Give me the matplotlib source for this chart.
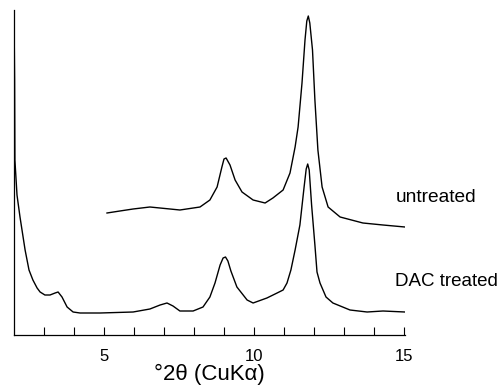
import matplotlib.pyplot as plt

plt.rcParams['font.family'] = ['Liberation Sans', 'DejaVu Sans']

# XRD patterns, 2-theta (deg) vs intensity (arbitrary units)
dac_2theta = [2.00, 2.02, 2.03, 2.10, 2.20, 2.37, 2.50, 2.63, 2.77, 2.87, 3.03,
              3.20, 3.37, 3.47, 3.60, 3.77, 3.97, 4.20, 4.87, 5.97, 6.53, 6.87,
              7.10, 7.30, 7.53, 7.97, 8.30, 8.53, 8.70, 8.87, 8.97, 9.05, 9.13,
              9.23, 9.43, 9.77, 9.97, 10.43, 10.77, 10.97, 11.10, 11.23, 11.37,
              11.53, 11.67, 11.74, 11.79, 11.84, 11.92, 12.03, 12.10, 12.20,
              12.40, 12.63, 13.20, 13.77, 14.30, 15.03]
dac_int = [323, 255, 175, 140, 118, 85, 65, 55, 47, 43, 40,
           40, 42, 43, 38, 28, 23, 22, 22, 23, 26, 30,
           32, 29, 24, 24, 28, 38, 52, 70, 77, 78, 74,
           64, 48, 35, 32, 37, 42, 45, 52, 65, 85,
           110, 148, 166, 171, 165, 130, 90, 63, 52,
           38, 32, 25, 23, 24, 23]

untreated_2theta = [5.10, 5.53, 5.97, 6.53, 7.20, 7.53, 8.20, 8.53, 8.77, 8.93,
                    9.00, 9.07, 9.20, 9.37, 9.60, 9.97, 10.37, 10.63, 10.97,
                    11.20, 11.37, 11.47, 11.60, 11.70, 11.76, 11.81, 11.86,
                    11.95, 12.03, 12.13, 12.27, 12.47, 12.87, 13.63, 14.30, 15.03]
untreated_int = [122, 124, 126, 128, 126, 125, 128, 135, 148, 168,
                 176, 177, 170, 155, 143, 135, 132, 137, 145,
                 162, 188, 208, 252, 295, 314, 319, 312,
                 285, 235, 185, 148, 128, 118, 112, 110, 108]

xticks = list(range(3, 16))
xticklabels = ['5' if t == 5 else '10' if t == 10 else '15' if t == 15 else '' for t in xticks]

fig = plt.figure(figsize=(5.02, 3.89), dpi=100)
ax = fig.add_axes([14 / 502, 54 / 389, 391.5 / 502, 325 / 389])

ax.plot(dac_2theta, dac_int, color='black', lw=1.0)
ax.plot(untreated_2theta, untreated_int, color='black', lw=1.0)

ax.set_xlim(2, 15.05)
ax.set_ylim(0, 325)
ax.set_xticks(xticks)
ax.set_xticklabels(xticklabels)
ax.set_yticks([])
ax.tick_params(axis='x', direction='in', length=6, width=0.8, pad=10, labelsize=12)
for side in ['top', 'right']:
    ax.spines[side].set_visible(False)
for side in ['left', 'bottom']:
    ax.spines[side].set_linewidth(0.9)

ax.set_xlabel('°2θ (CuKα)', fontsize=16, labelpad=0)

fig.text(396 / 502, 1 - 197 / 389, 'untreated', fontsize=13.8, va='center', ha='left')
fig.text(395 / 502, 1 - 282 / 389, 'DAC treated', fontsize=13.5, va='center', ha='left')

fig.savefig('out.png', dpi=100)
